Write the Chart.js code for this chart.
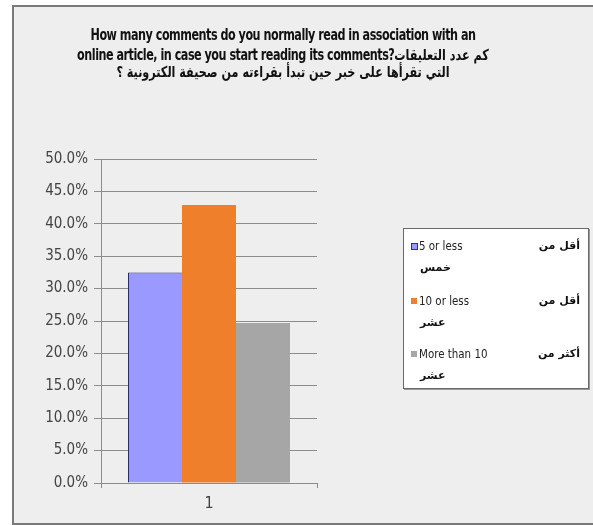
<!DOCTYPE html>
<html>
<head>
<meta charset="utf-8">
<script src="https://cdn.jsdelivr.net/npm/chart.js@4/dist/chart.umd.min.js"></script>
<style>
  html,body{margin:0;padding:0;background:#ffffff;width:593px;height:525px;overflow:hidden;}
  #frame{position:absolute;left:12px;top:5px;width:600px;height:516px;background:#eeeeee;border-left:2px solid #7a7a7a;border-top:2px solid #7a7a7a;border-bottom:2px solid #7a7a7a;}
  #c{position:absolute;left:0;top:0;}
  .tl{position:absolute;left:0;width:566px;text-align:center;font-family:'Liberation Sans Narrow','DejaVu Sans Condensed','DejaVu Sans',sans-serif;font-weight:bold;font-size:15px;color:#111;letter-spacing:-0.6px;white-space:nowrap;line-height:18px;transform:scaleX(0.83);transform-origin:283px 50%;}
  #legend{position:absolute;left:403px;top:228px;width:184px;height:159px;background:#ffffff;border:1px solid #6a6a6a;box-shadow:1px 1px 0 #999;}
  .lg{position:absolute;font-family:'Liberation Sans Narrow','DejaVu Sans Condensed','DejaVu Sans',sans-serif;font-size:13px;color:#222;white-space:nowrap;line-height:16px;}
  .en{transform:scaleX(0.88);transform-origin:0 50%;}
  .ar{font-family:'DejaVu Sans','Noto Sans',sans-serif;font-weight:bold;font-size:11px;color:#111;}
  .sw{position:absolute;width:6px;height:6px;}
</style>
</head>
<body>
<div id="frame"></div>
<canvas id="c" width="593" height="525"></canvas>
<div id="title"></div>
<div id="legend"></div>
<script>
const titleLines = [
  "How many comments do you normally read in association with an",
  "online article, in case you start reading its comments?كم عدد التعليقات",
  "التي تقرأها على خبر حين تبدأ بقراءته من صحيفة الكترونية ؟"
];
const categories = ["1"];
const seriesNames = ["5 or less", "10 or less", "More than 10"];
const seriesArabic1 = ["أقل من", "أقل من", "أكثر من"];
const seriesArabic2 = ["خمس", "عشر", "عشر"];
const seriesValues = [[32.5], [42.9], [24.7]];
const seriesColors = ["#9999ff", "#f07f2c", "#a6a6a6"];
const yTickMax = 50;
const yTickStep = 5;

// Title (HTML text)
const tEl = document.getElementById('title');
const titleTops = [26, 46, 63];
titleLines.forEach((t, i) => {
  const d = document.createElement('div');
  d.className = 'tl';
  d.style.top = titleTops[i] + 'px';
  if (i === 2) d.dir = 'rtl';
  d.textContent = t;
  tEl.appendChild(d);
});

// Legend (HTML text)
const lEl = document.getElementById('legend');
const rowTops = [9, 64, 117];
seriesNames.forEach((n, i) => {
  const top = rowTops[i];
  const sw = document.createElement('div');
  sw.className = 'sw';
  sw.style.left = '7px';
  sw.style.top = (top + 5) + 'px';
  sw.style.background = seriesColors[i];
  if (i === 0) { sw.style.border = '1px solid #333366'; sw.style.width = '5px'; sw.style.height = '5px'; }
  lEl.appendChild(sw);
  const en = document.createElement('div');
  en.className = 'lg en';
  en.style.left = '15px';
  en.style.top = top + 'px';
  en.textContent = n;
  lEl.appendChild(en);
  const a1 = document.createElement('div');
  a1.className = 'lg ar';
  a1.dir = 'rtl';
  a1.style.right = '8px';
  a1.style.top = top + 'px';
  a1.textContent = seriesArabic1[i];
  lEl.appendChild(a1);
  const a2 = document.createElement('div');
  a2.className = 'lg ar';
  a2.dir = 'rtl';
  a2.style.left = '16px';
  a2.style.top = (top + 22) + 'px';
  a2.textContent = seriesArabic2[i];
  lEl.appendChild(a2);
});

const fontFam = "'Liberation Sans Narrow','DejaVu Sans Condensed','DejaVu Sans',sans-serif";
const datasets = seriesNames.map((n, i) => ({
  label: n + ' ' + seriesArabic1[i] + ' ' + seriesArabic2[i],
  data: seriesValues[i],
  backgroundColor: seriesColors[i],
  borderColor: i === 0 ? '#2b2b6b' : seriesColors[i],
  borderWidth: i === 0 ? {left: 1, top: 1, right: 0, bottom: 0} : 0,
  borderSkipped: false,
  categoryPercentage: 0.75,
  barPercentage: 1.0
}));

new Chart(document.getElementById('c'), {
  type: 'bar',
  data: { labels: categories, datasets },
  options: {
    responsive: false,
    animation: false,
    devicePixelRatio: 1,
    layout: { padding: { left: 41, right: 276, top: 159, bottom: 12 } },
    plugins: { legend: { display: false }, title: { display: false }, tooltip: { enabled: false } },
    scales: {
      x: {
        afterFit: s => { s.height = 30; },
        grid: { display: true, drawOnChartArea: false, offset: true, tickLength: 5, color: '#8c8c8c' },
        border: { display: true, color: '#8c8c8c' },
        ticks: { color: '#444', padding: 6, font: { family: fontFam, size: 16 } }
      },
      y: {
        min: 0, max: yTickMax,
        afterFit: s => { s.width = 60; },
        grid: { color: '#8c8c8c', tickLength: 7 },
        border: { display: true, color: '#8c8c8c' },
        ticks: { stepSize: yTickStep, color: '#444', padding: 6, font: { family: fontFam, size: 15 },
          callback: v => v.toFixed(1) + '%' }
      }
    }
  }
});
</script>
</body>
</html>
